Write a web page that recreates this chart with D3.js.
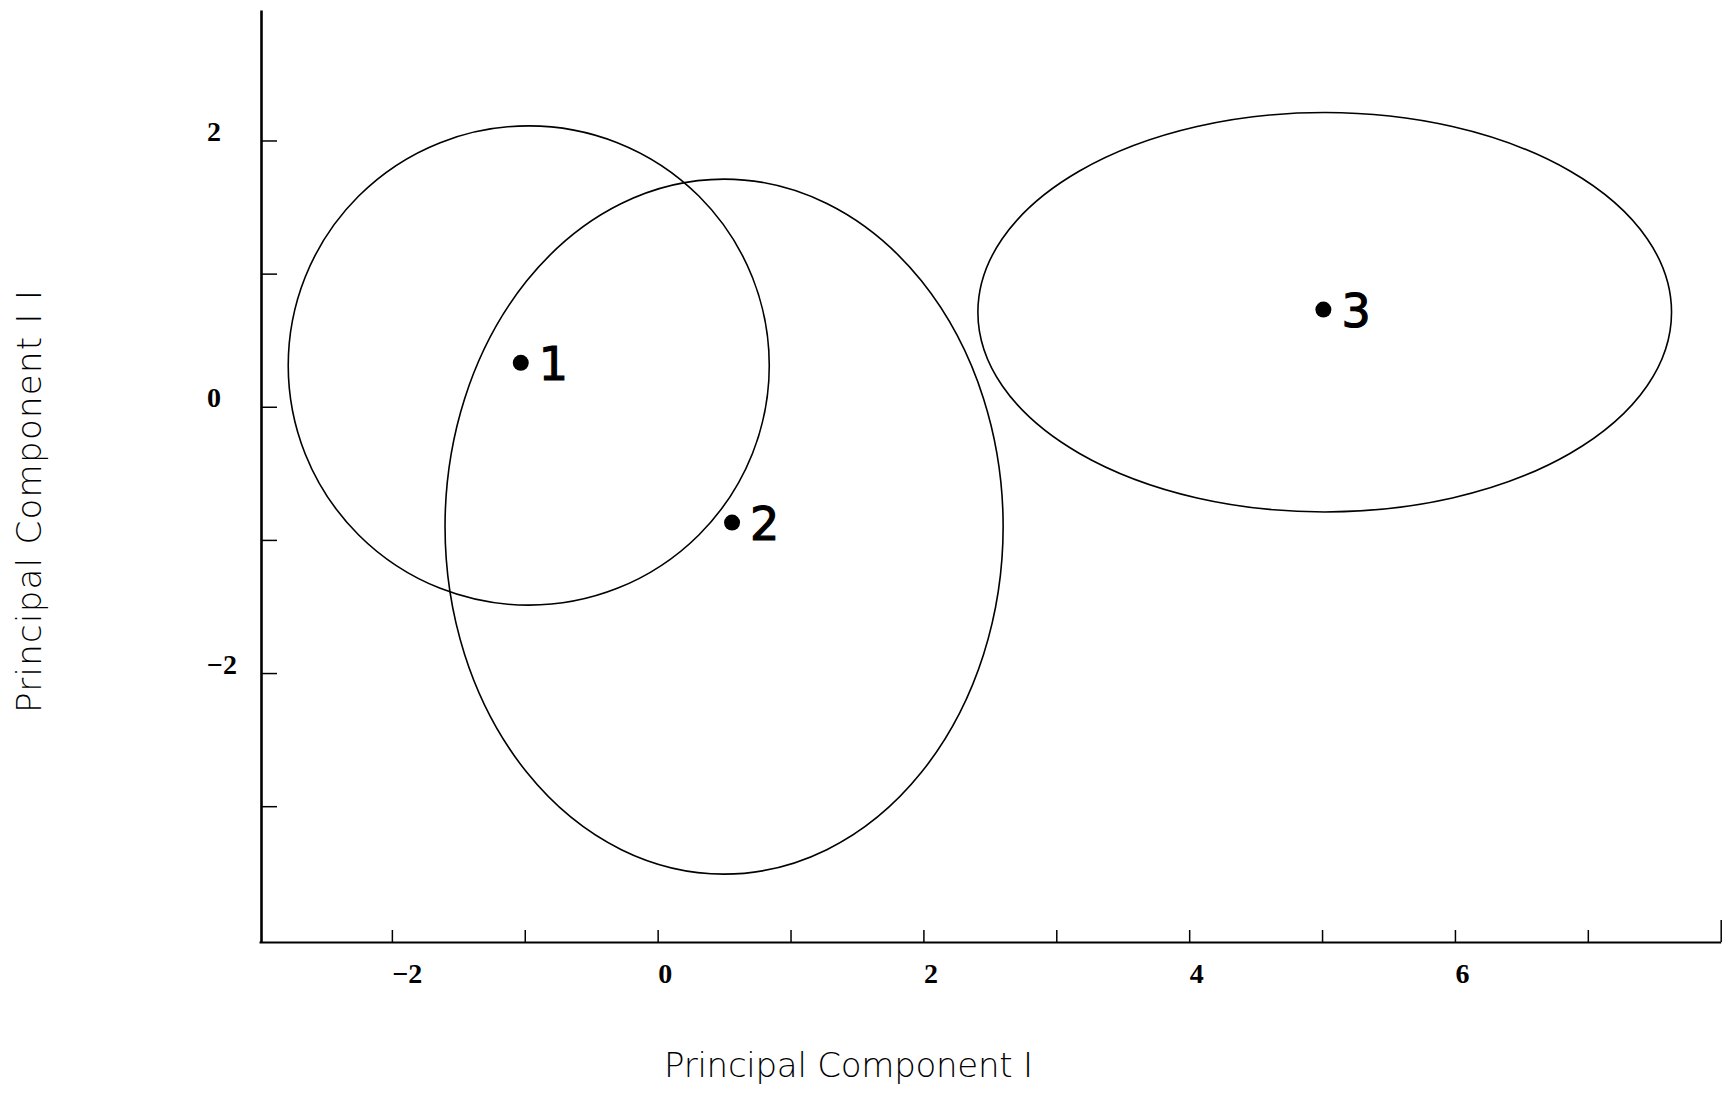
<!DOCTYPE html>
<html>
<head>
<meta charset="utf-8">
<script src="https://cdn.jsdelivr.net/npm/d3@7"></script>
<style>
  html, body { margin: 0; padding: 0; background: #fff; }
  svg { display: block; }
</style>
</head>
<body>
<svg id="chart" width="1733" height="1093"></svg>
<script>
// ---- data ----
const groups = ["1", "2", "3"];
const centroidX = [-1.03, 0.56, 5.01];
const centroidY = [0.33, -0.87, 0.73];
const ellipseCX = [-0.97, 0.50, 5.02];
const ellipseCY = [0.31, -0.90, 0.71];
const ellipseRX = [1.81, 2.10, 2.61];
const ellipseRY = [1.80, 2.61, 1.50];
const xTicks = [-2, -1, 0, 1, 2, 3, 4, 5, 6, 7, 8];
const xTickLabels = {"-2": "\u22122", "0": "0", "2": "2", "4": "4", "6": "6"};
const yTicks = [-3, -2, -1, 0, 1, 2];
const yTickLabels = {"-2": "\u22122", "0": "0", "2": "2"};
const xTitle = "Principal Component  I";
const yTitle = "Principal Component  I I";

// ---- layout ----
const svg = d3.select("#chart");
svg.append("rect").attr("width", 1733).attr("height", 1093).attr("fill", "#fff");

const x = d3.scaleLinear().domain([-3, 8]).range([259, 1720.7]);
const y = d3.scaleLinear().domain([-4.02, 2.98]).range([942, 10]);

// x axis
const xAxis = d3.axisBottom(x)
  .tickValues(xTicks)
  .tickSizeInner(-12)
  .tickSizeOuter(0)
  .tickPadding(21)
  .tickFormat(d => xTickLabels[String(d)] || "");
const gx = svg.append("g").attr("transform", `translate(0,${y(-4.02)})`).call(xAxis);
gx.select(".domain").attr("stroke", "#000").attr("stroke-width", 2.2);
gx.selectAll(".tick line").attr("stroke", "#000").attr("stroke-width", 1.5)
  .attr("y2", d => d === 8 ? -22 : -12);
gx.selectAll(".tick text")
  .attr("text-anchor", "start")
  .attr("font-family", "'Liberation Serif', serif")
  .attr("font-weight", "bold")
  .attr("font-size", 28)
  .attr("fill", "#000");

// y axis
const yAxis = d3.axisLeft(y)
  .tickValues(yTicks)
  .tickSizeInner(-16)
  .tickSizeOuter(0)
  .tickFormat(d => yTickLabels[String(d)] || "");
const gy = svg.append("g").attr("transform", `translate(${x(-3) + 2},0)`).call(yAxis);
gy.select(".domain").attr("stroke", "#000").attr("stroke-width", 2.6);
gy.selectAll(".tick line").attr("stroke", "#000").attr("stroke-width", 1.5);
gy.selectAll(".tick text")
  .attr("x", -54)
  .attr("dy", "0")
  .attr("text-anchor", "start")
  .attr("font-family", "'Liberation Serif', serif")
  .attr("font-weight", "bold")
  .attr("font-size", 28)
  .attr("fill", "#000");

// ellipses
svg.append("g").selectAll("ellipse")
  .data(groups)
  .join("ellipse")
  .attr("cx", (d, i) => x(ellipseCX[i]))
  .attr("cy", (d, i) => y(ellipseCY[i]))
  .attr("rx", (d, i) => x(ellipseCX[i] + ellipseRX[i]) - x(ellipseCX[i]))
  .attr("ry", (d, i) => y(ellipseCY[i]) - y(ellipseCY[i] + ellipseRY[i]))
  .attr("fill", "none")
  .attr("stroke", "#000")
  .attr("stroke-width", 1.6);

// centroids
svg.append("g").selectAll("circle")
  .data(groups)
  .join("circle")
  .attr("cx", (d, i) => x(centroidX[i]))
  .attr("cy", (d, i) => y(centroidY[i]))
  .attr("r", 8)
  .attr("fill", "#000");

svg.append("g").selectAll("text")
  .data(groups)
  .join("text")
  .attr("x", (d, i) => x(centroidX[i]) + 18)
  .attr("y", (d, i) => y(centroidY[i]) + 17)
  .attr("font-family", "'DejaVu Sans', sans-serif")
  .attr("font-size", 46)
  .attr("fill", "#000")
  .attr("stroke", "#000")
  .attr("stroke-width", 1.2)
  .text(d => d);

// axis titles
svg.append("text")
  .attr("x", 664)
  .attr("y", 1077)
  .attr("font-family", "'DejaVu Sans', sans-serif")
  .attr("font-weight", 200)
  .attr("font-size", 34)
  .attr("textLength", 369)
  .attr("lengthAdjust", "spacing")
  .attr("fill", "#000")
  .text(xTitle);

svg.append("text")
  .attr("transform", "translate(41,713) rotate(-90)")
  .attr("x", 0)
  .attr("y", 0)
  .attr("font-family", "'DejaVu Sans', sans-serif")
  .attr("font-weight", 200)
  .attr("font-size", 34)
  .attr("textLength", 423)
  .attr("lengthAdjust", "spacing")
  .attr("fill", "#000")
  .text(yTitle);
</script>
</body>
</html>
